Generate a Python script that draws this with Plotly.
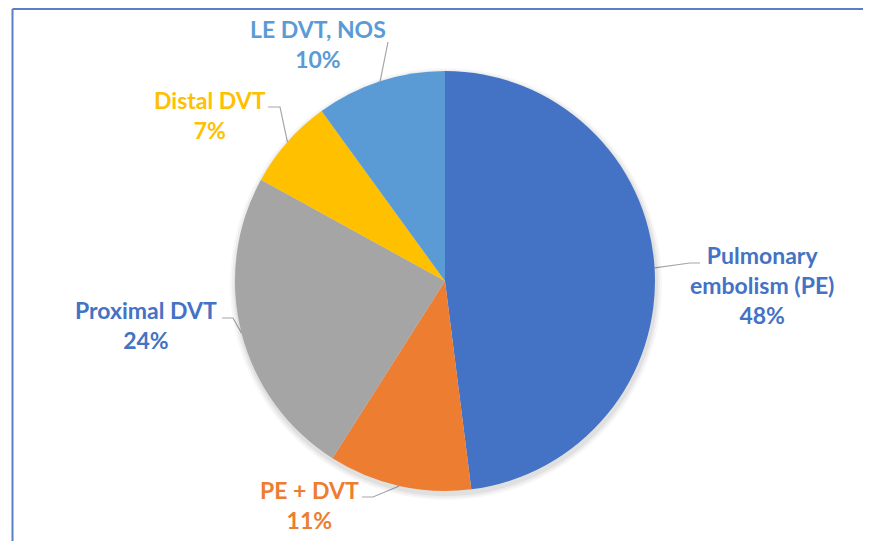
import math
import plotly.graph_objects as go

# ---- data ----
categories = ["Pulmonary embolism (PE)", "PE + DVT", "Proximal DVT", "Distal DVT", "LE DVT, NOS"]
label_lines = ["Pulmonary<br>embolism (PE)", "PE + DVT", "Proximal DVT", "Distal DVT", "LE DVT, NOS"]
values = [48, 11, 24, 7, 10]

# ---- style ----
slice_colors = ["#4472C4", "#ED7D31", "#A5A5A5", "#FFC000", "#5B9BD5"]
text_colors = ["#4472C4", "#ED7D31", "#4472C4", "#FFC000", "#5B9BD5"]
VW, VH = 871, 549                  # viewport
OFF = 8                            # page body margin
W, H = VW - 2 * OFF, VH - 2 * OFF  # figure size (fits without scrollbars)
CX, CY, R = 445, 281, 210          # pie geometry in screen pixels
# label block centers (screen px) and leader-line elbow points (screen px, from label side)
label_pos = [(762, 285), (309, 505), (146, 325), (210, 115), (318, 44)]
leader_pts = [
    [(700, 263), (690, 263)],
    [(362, 497), (373, 497)],
    [(222, 318), (233, 318)],
    [(268, 107), (280, 107)],
    [(388, 42)],
]


def dom(cx, cy, r):
    return dict(x=[(cx - r - OFF) / W, (cx + r - OFF) / W],
                y=[(VH - OFF - cy - r) / H, (VH - OFF - cy + r) / H])


fig = go.Figure()
# soft shadow
for k, a in [(6, 0.03), (4, 0.04), (2, 0.05)]:
    fig.add_trace(go.Pie(values=[1], sort=False, marker=dict(colors=[f"rgba(0,0,0,{a})"], line=dict(width=0)),
                         textinfo="none", hoverinfo="skip", showlegend=False,
                         domain=dom(CX + 1, CY + 3, R + k)))
fig.add_trace(go.Pie(
    labels=categories, values=values, sort=False, direction="clockwise", rotation=0,
    marker=dict(colors=slice_colors, line=dict(width=0)),
    textinfo="none", hoverinfo="label+percent", showlegend=False,
    domain=dom(CX, CY, R),
))

# invisible pixel axes for annotations and leader lines
fig.add_trace(go.Scatter(x=[OFF, VW - OFF], y=[OFF, VH - OFF], mode="markers", marker=dict(opacity=0),
                         showlegend=False, hoverinfo="skip"))

total = sum(values)
cum = 0
for i, v in enumerate(values):
    mid = (cum + v / 2) / total * 2 * math.pi
    cum += v
    ex = CX + R * math.sin(mid)
    ey = CY - R * math.cos(mid)
    pts = leader_pts[i] + [(ex, ey)]
    fig.add_trace(go.Scatter(
        x=[p[0] for p in pts], y=[p[1] for p in pts], mode="lines",
        line=dict(color="#A6A6A6", width=1.2), showlegend=False, hoverinfo="skip"))
    pct = round(v / total * 100)
    fig.add_annotation(
        x=label_pos[i][0], y=label_pos[i][1], xref="x", yref="y",
        text=f"{label_lines[i]}<br>{pct}%", showarrow=False, align="center",
        xanchor="center", yanchor="middle",
        font=dict(family="Lato", size=23, color=text_colors[i], weight="bold"),
    )

# border frame (top and left edges visible in the crop)
frame = dict(color="#5A7FC8", width=2)
fig.add_shape(type="line", xref="x", yref="y", x0=12.5, y0=9, x1=VW - OFF, y1=9, line=frame, layer="above")
fig.add_shape(type="line", xref="x", yref="y", x0=12.5, y0=9, x1=12.5, y1=VH - OFF, line=frame, layer="above")

fig.update_xaxes(range=[OFF, VW - OFF], visible=False, fixedrange=True)
fig.update_yaxes(range=[VH - OFF, OFF], visible=False, fixedrange=True)
fig.update_layout(
    width=W, height=H, margin=dict(l=0, r=0, t=0, b=0),
    paper_bgcolor="white", plot_bgcolor="rgba(0,0,0,0)",
)
fig.write_html("out.html", config=dict(displayModeBar=False))
